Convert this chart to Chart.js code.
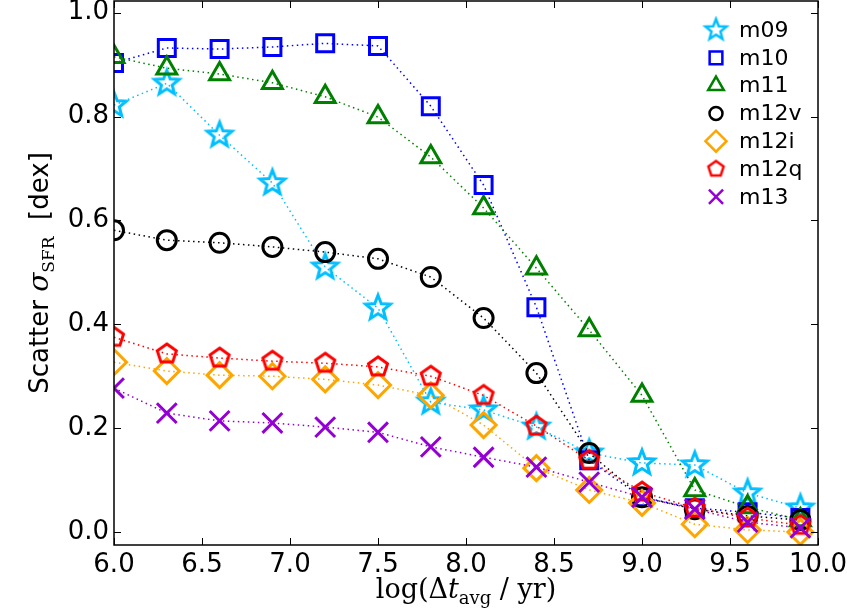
<!DOCTYPE html>
<html>
<head>
<meta charset="utf-8">
<script src="https://cdn.jsdelivr.net/npm/chart.js@4/dist/chart.umd.min.js"></script>
<style>
  html, body { margin: 0; padding: 0; background: #fff; }
  #wrap { width: 847px; height: 616px; }
</style>
</head>
<body>
<div id="wrap"><canvas id="scatter-sfr"></canvas></div>
<script>
// log(dt_avg / yr) sampling
const logDt = [6.0, 6.3, 6.6, 6.9, 7.2, 7.5, 7.8, 8.1, 8.4, 8.7, 9.0, 9.3, 9.6, 9.9];

const m09  = [0.822, 0.864, 0.764, 0.672, 0.510, 0.431, 0.250, 0.235, 0.202, 0.152, 0.133, 0.129, 0.075, 0.046];
const m10  = [0.903, 0.932, 0.930, 0.934, 0.941, 0.936, 0.820, 0.668, 0.433, 0.138, 0.067, 0.046, 0.038, 0.027];
const m11  = [0.915, 0.893, 0.882, 0.865, 0.838, 0.799, 0.722, 0.624, 0.508, 0.389, 0.263, 0.081, 0.048, 0.023];
const m12v = [0.581, 0.562, 0.557, 0.549, 0.539, 0.526, 0.491, 0.412, 0.306, 0.152, 0.067, 0.044, 0.031, 0.023];
const m12i = [0.327, 0.310, 0.302, 0.300, 0.294, 0.283, 0.263, 0.206, 0.123, 0.081, 0.056, 0.015, 0.004, 0.000];
const m12q = [0.375, 0.343, 0.335, 0.329, 0.325, 0.318, 0.300, 0.263, 0.204, 0.138, 0.077, 0.046, 0.027, 0.013];
const m13  = [0.277, 0.229, 0.214, 0.210, 0.202, 0.192, 0.164, 0.144, 0.125, 0.096, 0.067, 0.044, 0.019, 0.008];

const seriesNames = ["m09", "m10", "m11", "m12v", "m12i", "m12q", "m13"];
const seriesValues = [m09, m10, m11, m12v, m12i, m12q, m13];
const xTicks = [6.0, 6.5, 7.0, 7.5, 8.0, 8.5, 9.0, 9.5, 10.0];
const yTicks = [0.0, 0.2, 0.4, 0.6, 0.8, 1.0];

const colors = ["#00bfff", "#0000ff", "#008000", "#000000", "#ffa500", "#ff0000", "#9400d3"];

// star / pentagon markers drawn on small canvases
function polyMarker(color, n, R, r, lw) {
  const s = Math.ceil(2 * R + 2 * lw + 2);
  const c = document.createElement("canvas");
  c.width = s; c.height = s;
  const g = c.getContext("2d");
  g.strokeStyle = color;
  g.lineWidth = lw;
  g.lineJoin = "miter";
  g.beginPath();
  const pts = r ? n * 2 : n;
  for (let i = 0; i < pts; i++) {
    const a = -Math.PI / 2 + i * 2 * Math.PI / pts;
    const rr = (r && i % 2) ? r : R;
    const px = s / 2 + Math.cos(a) * rr, py = s / 2 + Math.sin(a) * rr;
    if (i === 0) g.moveTo(px, py); else g.lineTo(px, py);
  }
  g.closePath();
  g.stroke();
  return c;
}

const styles = [
  {pointStyle: polyMarker(colors[0], 5, 13, 5.6, 3), pointRadius: 13},
  {pointStyle: "rect", pointRadius: 12},
  {pointStyle: "triangle", pointRadius: 11.5},
  {pointStyle: "circle", pointRadius: 9.5},
  {pointStyle: "rectRot", pointRadius: 12.5},
  {pointStyle: polyMarker(colors[5], 5, 10, 0, 3), pointRadius: 10},
  {pointStyle: "crossRot", pointRadius: 14}
];
const legendStyles = [
  {pointStyle: polyMarker(colors[0], 5, 11, 4.7, 2.5), radius: 11},
  {pointStyle: "rect", radius: 9},
  {pointStyle: "triangle", radius: 9},
  {pointStyle: "circle", radius: 6.5},
  {pointStyle: "rectRot", radius: 10.5},
  {pointStyle: polyMarker(colors[5], 5, 8, 0, 2.5), radius: 8},
  {pointStyle: "crossRot", radius: 10}
];

const datasets = seriesNames.map((name, k) => ({
  label: name,
  data: logDt.map((x, i) => ({x: x, y: seriesValues[k][i]})),
  borderColor: colors[k],
  backgroundColor: "rgba(0,0,0,0)",
  pointBorderColor: colors[k],
  pointBackgroundColor: "rgba(0,0,0,0)",
  pointBorderWidth: 3,
  pointStyle: styles[k].pointStyle,
  pointRadius: styles[k].pointRadius,
  borderWidth: 1.5,
  borderDash: [1.5, 3.5],
  fill: false,
  tension: 0,
  order: seriesNames.length - k
}));

// box with inward ticks on all four sides
const frameTicks = {
  id: "frameTicks",
  afterDraw(chart) {
    const {ctx, chartArea: a, scales} = chart;
    ctx.save();
    ctx.strokeStyle = "#000";
    ctx.lineWidth = 1.5;
    ctx.strokeRect(a.left, a.top, a.right - a.left, a.bottom - a.top);
    ctx.lineWidth = 1;
    ctx.beginPath();
    xTicks.forEach(v => {
      const p = Math.round(scales.x.getPixelForValue(v)) + 0.5;
      ctx.moveTo(p, a.bottom); ctx.lineTo(p, a.bottom - 7);
      ctx.moveTo(p, a.top); ctx.lineTo(p, a.top + 7);
    });
    yTicks.forEach(v => {
      const p = Math.round(scales.y.getPixelForValue(v)) + 0.5;
      ctx.moveTo(a.left, p); ctx.lineTo(a.left + 7, p);
      ctx.moveTo(a.right, p); ctx.lineTo(a.right - 7, p);
    });
    ctx.stroke();
    ctx.restore();
  }
};

// axis titles with subscripts
function drawParts(ctx, parts, cx, cy) {
  let w = 0;
  parts.forEach(p => { ctx.font = p.font; w += ctx.measureText(p.t).width; });
  let x = cx - w / 2;
  parts.forEach(p => {
    ctx.font = p.font;
    ctx.fillText(p.t, x, cy + (p.dy || 0));
    x += ctx.measureText(p.t).width;
  });
}
const axisTitles = {
  id: "axisTitles",
  afterDraw(chart) {
    const {ctx, chartArea: a} = chart;
    ctx.save();
    ctx.fillStyle = "#000";
    ctx.textBaseline = "alphabetic";
    ctx.textAlign = "left";
    drawParts(ctx, [
      {t: "log(Δ", font: "27px 'DejaVu Serif'"},
      {t: "t", font: "italic 27px 'DejaVu Serif'"},
      {t: "avg", font: "18px 'DejaVu Serif'", dy: 6},
      {t: " / yr)", font: "27px 'DejaVu Serif'"}
    ], (a.left + a.right) / 2, 598);
    ctx.translate(48, (a.top + a.bottom) / 2);
    ctx.rotate(-Math.PI / 2);
    drawParts(ctx, [
      {t: "Scatter ", font: "26px 'DejaVu Sans'"},
      {t: "σ", font: "italic 28px 'DejaVu Serif'"},
      {t: "SFR", font: "17px 'DejaVu Serif'", dy: 6},
      {t: "  [dex]", font: "26px 'DejaVu Sans'"}
    ], 0, 0);
    ctx.restore();
  }
};

// legend in the upper right of the axes
const cornerLegend = {
  id: "cornerLegend",
  afterDraw(chart) {
    const {ctx} = chart;
    ctx.save();
    ctx.font = "22px 'DejaVu Sans'";
    ctx.textBaseline = "middle";
    ctx.textAlign = "left";
    seriesNames.forEach((name, k) => {
      const y = 30 + k * 27.8;
      ctx.strokeStyle = colors[k];
      ctx.fillStyle = "rgba(0,0,0,0)";
      ctx.lineWidth = 2.5;
      Chart.helpers.drawPoint(ctx, {
        pointStyle: legendStyles[k].pointStyle,
        radius: legendStyles[k].radius,
        rotation: 0,
        borderWidth: 2.5
      }, 716, y);
      ctx.fillStyle = "#000";
      ctx.fillText(name, 739, y + 1);
    });
    ctx.restore();
  }
};

new Chart(document.getElementById("scatter-sfr"), {
  type: "line",
  data: {datasets: datasets},
  options: {
    responsive: true,
    maintainAspectRatio: false,
    animation: false,
    layout: {autoPadding: false, padding: {left: 0, right: 29, top: 1, bottom: 0}},
    plugins: {
      legend: {display: false},
      tooltip: {enabled: false}
    },
    scales: {
      x: {
        type: "linear",
        min: 6.0,
        max: 10.0,
        grid: {display: false, drawTicks: false},
        border: {display: false},
        afterFit(scale) { scale.height = 71; scale.paddingLeft = 0; scale.paddingRight = 0; },
        afterBuildTicks(scale) { scale.ticks = xTicks.map(v => ({value: v})); },
        ticks: {
          padding: 5,
          maxRotation: 0,
          autoSkip: false,
          color: "#000",
          font: {family: "'DejaVu Sans'", size: 26},
          callback: v => v.toFixed(1)
        }
      },
      y: {
        min: -0.025,
        max: 1.0225,
        grid: {display: false, drawTicks: false},
        border: {display: false},
        afterFit(scale) { scale.width = 114; scale.paddingTop = 0; scale.paddingBottom = 0; },
        afterBuildTicks(scale) { scale.ticks = yTicks.map(v => ({value: v})); },
        ticks: {
          padding: 5,
          autoSkip: false,
          color: "#000",
          font: {family: "'DejaVu Sans'", size: 26},
          callback: v => v.toFixed(1)
        }
      }
    }
  },
  plugins: [frameTicks, axisTitles, cornerLegend]
});
</script>
</body>
</html>
